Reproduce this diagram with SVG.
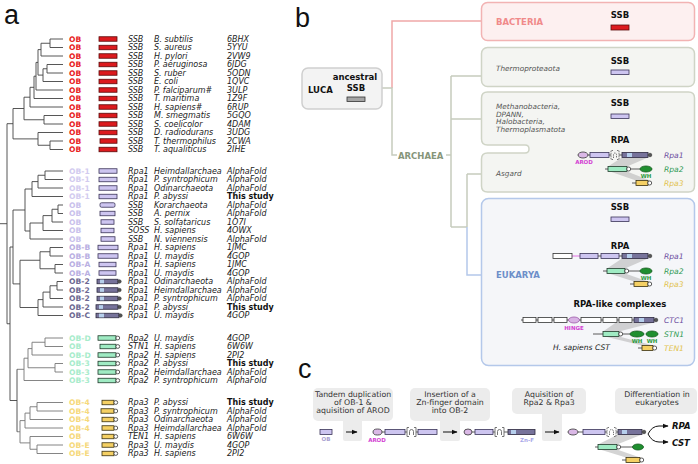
<svg xmlns="http://www.w3.org/2000/svg" width="698" height="464" viewBox="0 0 698 464">
<defs>
<style>
text{font-family:"DejaVu Sans",Verdana,sans-serif;}
.pl{font-family:"Liberation Sans",Arial,sans-serif;font-size:27px;fill:#111;}
.ob{font-size:7.6px;font-weight:bold;}
.it{font-size:8px;font-style:italic;fill:#222;}
.bd{font-size:8px;font-weight:bold;fill:#111;}
.red{fill:#e8231f;}
.l1{fill:#d2cbef;}
.l2{fill:#c9c1ec;}
.l3{fill:#b9afe2;}
.dk{fill:#6d6892;}
.gr{fill:#a7eccb;}
.ye{fill:#f6d97c;}
.bR{fill:#dc1a1e;stroke:#5a0a0a;stroke-width:0.8;}
.bL{fill:#cdc5f0;stroke:#3a3358;stroke-width:0.8;}
.bD{fill:#77739b;stroke:#2d2a40;stroke-width:0.8;}
.bS{fill:#b6cfec;}
.bG{fill:#9febc3;stroke:#1f3a2a;stroke-width:0.8;}
.bY{fill:#f5d064;stroke:#3a3010;stroke-width:0.8;}
.bW{fill:#fff;stroke:#333;stroke-width:0.8;}
.cap{fill:#fff;stroke:#333;stroke-width:0.8;}
.capd{fill:#555;stroke:#333;stroke-width:0.6;}
.ln{stroke:#333;stroke-width:0.8;fill:none;}
.tr1{stroke:#444;stroke-width:0.9;fill:none;}
.tr2{stroke:#777;stroke-width:0.9;fill:none;}
.hd{font-size:8.5px;font-weight:bold;fill:#111;text-anchor:middle;}
.sp{font-size:7.3px;font-style:italic;fill:#555;}
.pn{font-size:7.6px;font-style:italic;}
.tiny{font-size:5.5px;font-weight:bold;text-anchor:middle;}
.mag{fill:#d23fd2;}
.whc{fill:#2a9a3a;}
.arod{fill:#dab8e6;stroke:#333;stroke-width:0.8;}
.wh{fill:#1f8f2f;stroke:#145a1e;stroke-width:0.8;}
.zn{stroke:#666;stroke-width:0.9;fill:none;}
.shade{fill:#b8b8b8;opacity:0.6;}
.ctxt{font-size:7.8px;fill:#333;text-anchor:middle;}
.cbox{fill:#ececec;}
</style>
<marker id="arr" viewBox="0 0 10 10" refX="9" refY="5" markerWidth="6" markerHeight="6" orient="auto"><path d="M0,1 L10,5 L0,9 Z" fill="#111"/></marker>
</defs>
<rect width="698" height="464" fill="#fff"/>

<!-- panel labels -->
<text class="pl" x="4" y="24">a</text>
<text class="pl" x="295" y="27">b</text>
<text class="pl" x="298" y="378">c</text>

<!-- ===== PANEL A: tree ===== -->
<g id="tree-a">
<path class="tr1" d="M50,39H63 M50,47.5H63 M41,56H63 M47,64.5H63 M47,73H63 M43,81.5H63 M36,90H63 M34,98.5H63 M30,107H63 M44,115.5H63 M44,124H63 M38,132.5H63 M50,141H63 M50,149.5H63 M50,39V47.5 M41,43.25H50 M41,43.25V56 M38,49.6H41 M47,64.5V73 M43,68.75H47 M43,68.75V81.5 M38,75.1H43 M38,49.6V75.1 M36,62.4H38 M36,62.4V90 M34,76.2H36 M34,76.2V98.5 M30,87.3H34 M30,87.3V107 M24,97.2H30 M44,115.5V124 M24,119.75H44 M24,97.2V119.75 M13,108.5H24 M50,141V149.5 M38,145.25H50 M38,132.5V145.25 M13,138.9H38 M13,108.5V138.9 M7,123.7H13"/>
<path class="tr1" d="M45,171H63 M45,179.5H63 M38,188H63 M32,196.5H63 M58,205H63 M58,213.5H63 M52,222H63 M43,230.5H63 M30,239H63 M50,247.5H63 M50,256H63 M55,264.5H63 M55,273H63 M57,281.5H63 M57,290H63 M50,298.5H63 M43,307H63 M38,315.5H63 M45,171V179.5 M38,175.25H45 M38,175.25V188 M32,181.6H38 M32,181.6V196.5 M25,189H32 M58,205V213.5 M52,209.25H58 M52,209.25V222 M43,215.6H52 M43,215.6V230.5 M30,223H43 M30,223V239 M25,231H30 M25,189V231 M13,210H25 M50,247.5V256 M40,251.75H50 M55,264.5V273 M40,268.75H55 M40,251.75V268.75 M20,260.25H40 M57,281.5V290 M50,285.75H57 M50,285.75V298.5 M43,292.1H50 M43,292.1V307 M38,299.6H43 M38,299.6V315.5 M20,307.5H38 M20,260.25V307.5 M13,283.9H20 M13,210V283.9 M10,247H13"/>
<path class="tr2" d="M45,338H63 M45,346.5H63 M32,355H63 M55,363.5H63 M55,372H63 M24,380.5H63 M45,338V346.5 M32,342.25H45 M32,342.25V355 M28,348.6H32 M55,363.5V372 M28,367.75H55 M28,348.6V367.75 M24,358.2H28 M24,358.2V380.5 M17,369.3H24"/>
<path class="tr2" d="M37,402.5H63 M37,411H63 M30,419.5H63 M25,428H63 M30,436.5H63 M37,445H63 M37,453.5H63 M37,402.5V411 M30,406.75H37 M30,406.75V419.5 M25,413.1H30 M25,413.1V428 M20,420.6H25 M37,445V453.5 M30,449.25H37 M30,436.5V449.25 M20,442.9H30 M20,420.6V442.9 M17,431.75H20"/>
<path class="tr1" d="M17,369.3V431.75 M10,400.5H17 M10,247V400.5 M7,323.75H10 M7,123.7V323.75 M0,223.7H7"/>
</g>

<!-- group 1: bacteria -->
<g id="a-bacteria">
<g id="a01" transform="translate(0,39)"><text class="ob red" x="69" y="2.8">OB</text><rect class="bR" x="99" y="-2.25" width="18" height="4.5"/><text class="it" x="128" y="2.8">SSB</text><text class="it" x="154" y="2.8">B. subtilis</text><text class="it" x="227" y="2.8">6BHX</text></g>
<g id="a02" transform="translate(0,47.5)"><text class="ob red" x="69" y="2.8">OB</text><rect class="bR" x="99" y="-2.25" width="18" height="4.5"/><text class="it" x="128" y="2.8">SSB</text><text class="it" x="154" y="2.8">S. aureus</text><text class="it" x="227" y="2.8">5YYU</text></g>
<g id="a03" transform="translate(0,56)"><text class="ob red" x="69" y="2.8">OB</text><rect class="bR" x="99" y="-2.25" width="18" height="4.5"/><text class="it" x="128" y="2.8">SSB</text><text class="it" x="154" y="2.8">H. pylori</text><text class="it" x="227" y="2.8">2VW9</text></g>
<g id="a04" transform="translate(0,64.5)"><text class="ob red" x="69" y="2.8">OB</text><rect class="bR" x="99" y="-2.25" width="18" height="4.5"/><text class="it" x="128" y="2.8">SSB</text><text class="it" x="154" y="2.8">P. aeruginosa</text><text class="it" x="227" y="2.8">6JDG</text></g>
<g id="a05" transform="translate(0,73)"><text class="ob red" x="69" y="2.8">OB</text><rect class="bR" x="99" y="-2.25" width="18" height="4.5"/><text class="it" x="128" y="2.8">SSB</text><text class="it" x="154" y="2.8">S. ruber</text><text class="it" x="227" y="2.8">5ODN</text></g>
<g id="a06" transform="translate(0,81.5)"><text class="ob red" x="69" y="2.8">OB</text><rect class="bR" x="99" y="-2.25" width="18" height="4.5"/><text class="it" x="128" y="2.8">SSB</text><text class="it" x="154" y="2.8">E. coli</text><text class="it" x="227" y="2.8">1QVC</text></g>
<g id="a07" transform="translate(0,90)"><text class="ob red" x="69" y="2.8">OB</text><rect class="bR" x="99" y="-2.25" width="18" height="4.5"/><text class="it" x="128" y="2.8">SSB</text><text class="it" x="154" y="2.8">P. falciparum#</text><text class="it" x="227" y="2.8">3ULP</text></g>
<g id="a08" transform="translate(0,98.5)"><text class="ob red" x="69" y="2.8">OB</text><rect class="bR" x="99" y="-2.25" width="18" height="4.5"/><text class="it" x="128" y="2.8">SSB</text><text class="it" x="154" y="2.8">T. maritima</text><text class="it" x="227" y="2.8">1Z9F</text></g>
<g id="a09" transform="translate(0,107)"><text class="ob red" x="69" y="2.8">OB</text><rect class="bR" x="99" y="-2.25" width="18" height="4.5"/><text class="it" x="128" y="2.8">SSB</text><text class="it" x="154" y="2.8">H. sapiens#</text><text class="it" x="227" y="2.8">6RUP</text></g>
<g id="a10" transform="translate(0,115.5)"><text class="ob red" x="69" y="2.8">OB</text><rect class="bR" x="99" y="-2.25" width="18" height="4.5"/><text class="it" x="128" y="2.8">SSB</text><text class="it" x="154" y="2.8">M. smegmatis</text><text class="it" x="227" y="2.8">5GQO</text></g>
<g id="a11" transform="translate(0,124)"><text class="ob red" x="69" y="2.8">OB</text><rect class="bR" x="99" y="-2.25" width="18" height="4.5"/><text class="it" x="128" y="2.8">SSB</text><text class="it" x="154" y="2.8">S. coelicolor</text><text class="it" x="227" y="2.8">4DAM</text></g>
<g id="a12" transform="translate(0,132.5)"><text class="ob red" x="69" y="2.8">OB</text><rect class="bR" x="99" y="-2.25" width="18" height="4.5"/><text class="it" x="128" y="2.8">SSB</text><text class="it" x="154" y="2.8">D. radiodurans</text><text class="it" x="227" y="2.8">3UDG</text></g>
<g id="a13" transform="translate(0,141)"><text class="ob red" x="69" y="2.8">OB</text><rect class="bR" x="100" y="-2.25" width="17" height="4.5"/><text class="it" x="128" y="2.8">SSB</text><text class="it" x="154" y="2.8">T. thermophilus</text><text class="it" x="227" y="2.8">2CWA</text></g>
<g id="a14" transform="translate(0,149.5)"><text class="ob red" x="69" y="2.8">OB</text><rect class="bR" x="99" y="-2.25" width="18" height="4.5"/><text class="it" x="128" y="2.8">SSB</text><text class="it" x="154" y="2.8">T. aqualiticus</text><text class="it" x="227" y="2.8">2IHE</text></g>
</g>

<!-- group 2: Rpa1 / SSB -->
<g id="a-rpa1">
<g id="a15" transform="translate(0,171)"><text class="ob l1" x="69" y="2.8">OB-1</text><rect class="bL" x="99" y="-2.25" width="18" height="4.5"/><text class="it" x="128" y="2.8">Rpa1</text><text class="it" x="154" y="2.8">Heimdallarchaea</text><text class="it" x="227" y="2.8">AlphaFold</text></g>
<g id="a16" transform="translate(0,179.5)"><text class="ob l1" x="69" y="2.8">OB-1</text><rect class="bL" x="99" y="-2.25" width="18" height="4.5"/><text class="it" x="128" y="2.8">Rpa1</text><text class="it" x="154" y="2.8">P. syntrophicum</text><text class="it" x="227" y="2.8">AlphaFold</text></g>
<g id="a17" transform="translate(0,188)"><text class="ob l1" x="69" y="2.8">OB-1</text><rect class="bL" x="99" y="-2.25" width="18" height="4.5"/><text class="it" x="128" y="2.8">Rpa1</text><text class="it" x="154" y="2.8">Odinarchaeota</text><text class="it" x="227" y="2.8">AlphaFold</text></g>
<g id="a18" transform="translate(0,196.5)"><text class="ob l1" x="69" y="2.8">OB-1</text><rect class="bL" x="99" y="-2.25" width="18" height="4.5"/><text class="it" x="128" y="2.8">Rpa1</text><text class="it" x="154" y="2.8">P. abyssi</text><text class="bd" x="227" y="2.8">This study</text></g>
<g id="a19" transform="translate(0,205)"><text class="ob l2" x="69" y="2.8">OB</text><rect class="bL" x="100" y="-2.25" width="15" height="4.5" rx="1.5"/><text class="it" x="128" y="2.8">SSB</text><text class="it" x="154" y="2.8">Korarchaeota</text><text class="it" x="227" y="2.8">AlphaFold</text></g>
<g id="a20" transform="translate(0,213.5)"><text class="ob l2" x="69" y="2.8">OB</text><rect class="bL" x="100" y="-2.25" width="15" height="4.5"/><text class="it" x="128" y="2.8">SSB</text><text class="it" x="154" y="2.8">A. pernix</text><text class="it" x="227" y="2.8">AlphaFold</text></g>
<g id="a21" transform="translate(0,222)"><text class="ob l2" x="69" y="2.8">OB</text><rect class="bL" x="101" y="-2.25" width="13" height="4.5"/><text class="it" x="128" y="2.8">SSB</text><text class="it" x="154" y="2.8">S. solfataricus</text><text class="it" x="227" y="2.8">1O7I</text></g>
<g id="a22" transform="translate(0,230.5)"><text class="ob l2" x="69" y="2.8">OB</text><rect class="bL" x="101" y="-2.25" width="13" height="4.5"/><text class="it" x="128" y="2.8">SOSS</text><text class="it" x="154" y="2.8">H. sapiens</text><text class="it" x="227" y="2.8">4OWX</text></g>
<g id="a23" transform="translate(0,239)"><text class="ob l2" x="69" y="2.8">OB</text><rect class="bL" x="101" y="-2.25" width="14" height="4.5"/><text class="it" x="128" y="2.8">SSB</text><text class="it" x="154" y="2.8">N. viennensis</text><text class="it" x="227" y="2.8">AlphaFold</text></g>
<g id="a24" transform="translate(0,247.5)"><text class="ob l3" x="69" y="2.8">OB-B</text><rect class="bL" x="98" y="-2.25" width="20" height="4.5"/><text class="it" x="128" y="2.8">Rpa1</text><text class="it" x="154" y="2.8">H. sapiens</text><text class="it" x="227" y="2.8">1JMC</text></g>
<g id="a25" transform="translate(0,256)"><text class="ob l3" x="69" y="2.8">OB-B</text><rect class="bL" x="98" y="-2.25" width="20" height="4.5"/><text class="it" x="128" y="2.8">Rpa1</text><text class="it" x="154" y="2.8">U. maydis</text><text class="it" x="227" y="2.8">4GOP</text></g>
<g id="a26" transform="translate(0,264.5)"><text class="ob l3" x="69" y="2.8">OB-A</text><rect class="bL" x="99" y="-2.25" width="17" height="4.5"/><text class="it" x="128" y="2.8">Rpa1</text><text class="it" x="154" y="2.8">H. sapiens</text><text class="it" x="227" y="2.8">1JMC</text></g>
<g id="a27" transform="translate(0,273)"><text class="ob l3" x="69" y="2.8">OB-A</text><rect class="bL" x="99" y="-2.25" width="17" height="4.5"/><text class="it" x="128" y="2.8">Rpa1</text><text class="it" x="154" y="2.8">U. maydis</text><text class="it" x="227" y="2.8">4GOP</text></g>
<g id="a28" transform="translate(0,281.5)"><text class="ob dk" x="69" y="2.8">OB-2</text><rect class="bD" x="97" y="-2.25" width="21" height="4.5"/><rect class="bS" x="100" y="-1.85" width="4" height="3.7"/><circle class="capd" cx="119.5" cy="0" r="1.7"/><text class="it" x="128" y="2.8">Rpa1</text><text class="it" x="154" y="2.8">Odinarchaeota</text><text class="it" x="227" y="2.8">AlphaFold</text></g>
<g id="a29" transform="translate(0,290)"><text class="ob dk" x="69" y="2.8">OB-2</text><rect class="bD" x="97" y="-2.25" width="21" height="4.5"/><rect class="bS" x="100" y="-1.85" width="4" height="3.7"/><circle class="capd" cx="119.5" cy="0" r="1.7"/><text class="it" x="128" y="2.8">Rpa1</text><text class="it" x="154" y="2.8">Heimdallarchaea</text><text class="it" x="227" y="2.8">AlphaFold</text></g>
<g id="a30" transform="translate(0,298.5)"><text class="ob dk" x="69" y="2.8">OB-2</text><rect class="bD" x="97" y="-2.25" width="21" height="4.5"/><rect class="bS" x="100" y="-1.85" width="4" height="3.7"/><circle class="capd" cx="119.5" cy="0" r="1.7"/><text class="it" x="128" y="2.8">Rpa1</text><text class="it" x="154" y="2.8">P. syntrophicum</text><text class="it" x="227" y="2.8">AlphaFold</text></g>
<g id="a31" transform="translate(0,307)"><text class="ob dk" x="69" y="2.8">OB-2</text><rect class="bD" x="96" y="-2.25" width="22" height="4.5"/><rect class="bS" x="99" y="-1.85" width="4" height="3.7"/><circle class="capd" cx="119.5" cy="0" r="1.7"/><text class="it" x="128" y="2.8">Rpa1</text><text class="it" x="154" y="2.8">P. abyssi</text><text class="bd" x="227" y="2.8">This study</text></g>
<g id="a32" transform="translate(0,315.5)"><text class="ob dk" x="69" y="2.8">OB-C</text><rect class="bD" x="96" y="-2.25" width="23" height="4.5"/><rect class="bS" x="99" y="-1.85" width="5" height="3.7"/><circle class="capd" cx="120.5" cy="0" r="1.7"/><text class="it" x="128" y="2.8">Rpa1</text><text class="it" x="154" y="2.8">U. maydis</text><text class="it" x="227" y="2.8">4GOP</text></g>
</g>

<!-- group 3: Rpa2 -->
<g id="a-rpa2">
<g id="a33" transform="translate(0,338)"><text class="ob gr" x="69" y="2.8">OB-D</text><rect class="bG" x="98" y="-2.25" width="18" height="4.5"/><circle class="cap" cx="117.8" cy="0" r="1.9"/><text class="it" x="128" y="2.8">Rpa2</text><text class="it" x="154" y="2.8">U. maydis</text><text class="it" x="227" y="2.8">4GOP</text></g>
<g id="a34" transform="translate(0,346.5)"><text class="ob gr" x="69" y="2.8">OB</text><rect class="bG" x="100" y="-2.25" width="16" height="4.5"/><circle class="cap" cx="117.8" cy="0" r="1.9"/><text class="it" x="128" y="2.8">STN1</text><text class="it" x="154" y="2.8">H. sapiens</text><text class="it" x="227" y="2.8">6W6W</text></g>
<g id="a35" transform="translate(0,355)"><text class="ob gr" x="69" y="2.8">OB-D</text><rect class="bG" x="98" y="-2.25" width="18" height="4.5"/><circle class="cap" cx="117.8" cy="0" r="1.9"/><text class="it" x="128" y="2.8">Rpa2</text><text class="it" x="154" y="2.8">H. sapiens</text><text class="it" x="227" y="2.8">2PI2</text></g>
<g id="a36" transform="translate(0,363.5)"><text class="ob gr" x="69" y="2.8">OB-3</text><rect class="bG" x="98" y="-2.25" width="18" height="4.5"/><circle class="cap" cx="117.8" cy="0" r="1.9"/><text class="it" x="128" y="2.8">Rpa2</text><text class="it" x="154" y="2.8">P. abyssi</text><text class="bd" x="227" y="2.8">This study</text></g>
<g id="a37" transform="translate(0,372)"><text class="ob gr" x="69" y="2.8">OB-3</text><rect class="bG" x="98" y="-2.25" width="18" height="4.5"/><circle class="cap" cx="117.8" cy="0" r="1.9"/><text class="it" x="128" y="2.8">Rpa2</text><text class="it" x="154" y="2.8">Heimdallarchaea</text><text class="it" x="227" y="2.8">AlphaFold</text></g>
<g id="a38" transform="translate(0,380.5)"><text class="ob gr" x="69" y="2.8">OB-3</text><rect class="bG" x="98" y="-2.25" width="18" height="4.5"/><circle class="cap" cx="117.8" cy="0" r="1.9"/><text class="it" x="128" y="2.8">Rpa2</text><text class="it" x="154" y="2.8">P. syntrophicum</text><text class="it" x="227" y="2.8">AlphaFold</text></g>
</g>

<!-- group 4: Rpa3 -->
<g id="a-rpa3">
<g id="a39" transform="translate(0,402.5)"><text class="ob ye" x="69" y="2.8">OB-4</text><rect class="bY" x="102" y="-2.25" width="12" height="4.5"/><circle class="cap" cx="115.8" cy="0" r="1.9"/><text class="it" x="128" y="2.8">Rpa3</text><text class="it" x="154" y="2.8">P. abyssi</text><text class="bd" x="227" y="2.8">This study</text></g>
<g id="a40" transform="translate(0,411)"><text class="ob ye" x="69" y="2.8">OB-4</text><rect class="bY" x="101" y="-2.25" width="13" height="4.5"/><circle class="cap" cx="115.8" cy="0" r="1.9"/><text class="it" x="128" y="2.8">Rpa3</text><text class="it" x="154" y="2.8">P. syntrophicum</text><text class="it" x="227" y="2.8">AlphaFold</text></g>
<g id="a41" transform="translate(0,419.5)"><text class="ob ye" x="69" y="2.8">OB-4</text><rect class="bY" x="102" y="-2.25" width="12" height="4.5"/><circle class="cap" cx="115.8" cy="0" r="1.9"/><text class="it" x="128" y="2.8">Rpa3</text><text class="it" x="154" y="2.8">Odinarchaeota</text><text class="it" x="227" y="2.8">AlphaFold</text></g>
<g id="a42" transform="translate(0,428)"><text class="ob ye" x="69" y="2.8">OB-4</text><rect class="bY" x="102" y="-2.25" width="12" height="4.5"/><circle class="cap" cx="115.8" cy="0" r="1.9"/><text class="it" x="128" y="2.8">Rpa3</text><text class="it" x="154" y="2.8">Heimdallarchaea</text><text class="it" x="227" y="2.8">AlphaFold</text></g>
<g id="a43" transform="translate(0,436.5)"><text class="ob ye" x="69" y="2.8">OB</text><rect class="bY" x="102" y="-2.25" width="12" height="4.5"/><circle class="cap" cx="115.8" cy="0" r="1.9"/><text class="it" x="128" y="2.8">TEN1</text><text class="it" x="154" y="2.8">H. sapiens</text><text class="it" x="227" y="2.8">6W6W</text></g>
<g id="a44" transform="translate(0,445)"><text class="ob ye" x="69" y="2.8">OB-E</text><rect class="bY" x="102" y="-2.25" width="12" height="4.5"/><circle class="cap" cx="115.8" cy="0" r="1.9"/><text class="it" x="128" y="2.8">Rpa3</text><text class="it" x="154" y="2.8">U. maydis</text><text class="it" x="227" y="2.8">4GOP</text></g>
<g id="a45" transform="translate(0,453.5)"><text class="ob ye" x="69" y="2.8">OB-E</text><rect class="bY" x="102" y="-2.25" width="12" height="4.5"/><circle class="cap" cx="115.8" cy="0" r="1.9"/><text class="it" x="128" y="2.8">Rpa3</text><text class="it" x="154" y="2.8">H. sapiens</text><text class="it" x="227" y="2.8">2PI2</text></g>
</g>

<!-- ===== PANEL B ===== -->
<g id="b-connectors">
<path d="M392,88 V21 H481" fill="none" stroke="#f0a8a8" stroke-width="1.5"/>
<path d="M382,88 H392 V155 H397 M446,155 H451 M451,76 V227 M451,76 H481 M451,119 H481 M451,227 H467 M467,174 V227 M467,174 H481" fill="none" stroke="#c6ccbd" stroke-width="1.5"/>
<path d="M467,227 V275 H481" fill="none" stroke="#b4c8ea" stroke-width="1.5"/>
<text x="398" y="158.5" font-size="8.5" font-weight="bold" fill="#86957a">ARCHAEA</text>
</g>

<g id="b-luca">
<rect x="302" y="68" width="80" height="41" rx="6" fill="#f3f3f3" stroke="#cfcfcf" stroke-width="1.5"/>
<text x="308" y="93" font-size="8.5" font-weight="bold" fill="#111">LUCA</text>
<text x="355" y="80" class="hd">ancestral</text>
<text x="356" y="91" class="hd">SSB</text>
<rect x="347" y="97" width="18" height="4.5" fill="#a5a5a5" stroke="#333" stroke-width="0.8"/>
</g>

<g id="b-bacteria">
<rect x="481.5" y="2.5" width="213" height="38" rx="6" fill="#fdf0f0" stroke="#f2b3b3" stroke-width="1.5"/>
<text x="496" y="25" font-size="8.5" font-weight="bold" fill="#f08a8a">BACTERIA</text>
<text x="620" y="18" class="hd">SSB</text>
<rect x="611" y="25" width="18" height="5" class="bR"/>
</g>

<g id="b-thermo">
<rect x="481.5" y="47.5" width="213" height="39" rx="6" fill="#f4f5f2" stroke="#cfd4c6" stroke-width="1.5"/>
<text x="496" y="71" class="sp">Thermoproteaota</text>
<text x="620" y="64" class="hd">SSB</text>
<rect x="611" y="70" width="18" height="4.5" class="bL"/>
</g>

<g id="b-archaea2">
<path d="M487.5,92 H688.5 Q694.5,92 694.5,98 V186 Q694.5,192 688.5,192 H487.5 Q481.5,192 481.5,186 V159 Q481.5,153 487.5,153 H525 Q529,153 529,149 Q529,145 525,145 H487.5 Q481.5,145 481.5,139 V98 Q481.5,92 487.5,92 Z" fill="#f4f5f2" stroke="#cfd4c6" stroke-width="1.5"/>
<text class="sp"><tspan x="496" y="109">Methanobacteria,</tspan><tspan x="496" y="116.5">DPANN,</tspan><tspan x="496" y="124">Halobacteria,</tspan><tspan x="496" y="131.5">Thermoplasmatota</tspan></text>
<text x="620" y="106" class="hd">SSB</text>
<rect x="611" y="114" width="18" height="4.5" class="bL"/>
<text x="496" y="176" class="sp">Asgard</text>
<text x="620" y="143" class="hd">RPA</text>
<polygon class="shade" points="622,157.5 648,157.5 627,166.5 608,166.5"/>
<polygon class="shade" points="610,171.5 627,171.5 650,180.5 636,180.5"/>
<path class="ln" d="M588,155H590 M609,155H611 M619,155H622"/>
<ellipse class="arod" cx="583" cy="155" rx="5" ry="3"/>
<rect class="bL" x="590" y="152.5" width="19" height="5"/>
<path class="zn" d="M613,150.5h-2v9h2 M617,150.5h2v9h-2 M613.5,158v-3.5a1.5,1.5 0 0 1 3,0v3.5" stroke-dasharray="1.5,0.8"/>
<rect class="bD" x="622" y="152.5" width="26" height="5"/>
<rect class="bS" x="627" y="153" width="5" height="4"/>
<circle class="capd" cx="650" cy="155" r="1.8"/>
<text x="584" y="164" class="tiny mag">AROD</text>
<text x="664" y="157.5" class="pn" fill="#6b4d9e">Rpa1</text>
<path class="ln" d="M605,169H608 M630.5,169H640"/>
<rect class="bG" x="608" y="166.5" width="19" height="5"/>
<circle class="cap" cx="628.7" cy="169" r="2"/>
<ellipse class="wh" cx="646" cy="169" rx="6" ry="3"/>
<text x="646" y="178" class="tiny whc">WH</text>
<text x="664" y="171.5" class="pn" fill="#2f9a52">Rpa2</text>
<path class="ln" d="M632,183H636"/>
<rect class="bY" x="636" y="180.5" width="12" height="5"/>
<circle class="cap" cx="649.7" cy="183" r="2"/>
<text x="664" y="185.5" class="pn" fill="#e2c24a">Rpa3</text>
</g>

<g id="b-eukarya">
<rect x="481.5" y="198.5" width="213" height="167" rx="7" fill="#f5f6f9" stroke="#b4c8ea" stroke-width="1.5"/>
<text x="496" y="278" font-size="8.5" font-weight="bold" fill="#6d8fc9">EUKARYA</text>
<text x="620" y="210" class="hd">SSB</text>
<rect x="611" y="217" width="18" height="4.5" class="bL"/>
<text x="620" y="249" class="hd">RPA</text>
<polygon class="shade" points="622,258.5 648,258.5 625,268.5 607,268.5"/>
<polygon class="shade" points="609,273.5 625,273.5 648,281.5 634,281.5"/>
<path class="ln" d="M598,256H601 M619,256H622"/>
<path d="M572,256H580" stroke="#e060e0" stroke-width="0.9"/>
<rect class="bW" x="553" y="253.5" width="19" height="5"/>
<rect class="bL" x="580" y="253.5" width="18" height="5"/>
<rect class="bL" x="601" y="253.5" width="18" height="5"/>
<rect class="bD" x="622" y="253.5" width="26" height="5"/>
<rect class="bS" x="627" y="254" width="5" height="4"/>
<circle class="capd" cx="650" cy="256" r="1.8"/>
<text x="664" y="258.5" class="pn" fill="#6b4d9e">Rpa1</text>
<path class="ln" d="M603,271H607 M628.5,271H640"/>
<rect class="bG" x="607" y="268.5" width="18" height="5"/>
<circle class="cap" cx="626.7" cy="271" r="2"/>
<ellipse class="wh" cx="646" cy="271" rx="6" ry="3"/>
<text x="646" y="280" class="tiny whc">WH</text>
<text x="664" y="273.5" class="pn" fill="#2f9a52">Rpa2</text>
<path class="ln" d="M630,284H634"/>
<rect class="bY" x="634" y="281.5" width="14" height="5"/>
<circle class="cap" cx="649.7" cy="284" r="2"/>
<text x="664" y="286.5" class="pn" fill="#e2c24a">Rpa3</text>
<text x="620" y="307" class="hd">RPA-like complexes</text>
<polygon class="shade" points="616,322.5 654,322.5 619,331.5 603,331.5"/>
<polygon class="shade" points="605,336.5 619,336.5 653,345.5 642,345.5"/>
<path class="ln" d="M521,320H656"/>
<rect class="bW" x="523" y="317.5" width="13" height="5"/>
<rect class="bW" x="538" y="317.5" width="14" height="5"/>
<rect class="bW" x="554" y="317.5" width="13" height="5"/>
<ellipse cx="574" cy="320" rx="5.5" ry="3" fill="#d8b2e4" stroke="#9c5aa8" stroke-width="0.8"/>
<rect class="bW" x="581" y="317.5" width="20" height="5"/>
<rect class="bW" x="603" y="317.5" width="14" height="5"/>
<rect class="bW" x="619" y="317.5" width="13" height="5"/>
<rect class="bD" x="634" y="317.5" width="20" height="5"/>
<rect class="bS" x="639" y="318" width="5" height="4"/>
<circle class="capd" cx="656" cy="320" r="1.8"/>
<text x="574" y="330" class="tiny mag">HINGE</text>
<text x="664" y="322.5" class="pn" fill="#6b4d9e">CTC1</text>
<path class="ln" d="M593,334H603 M623,334H630"/>
<rect class="bG" x="603" y="331.5" width="16" height="5"/>
<circle class="cap" cx="620.7" cy="334" r="2"/>
<ellipse class="wh" cx="637" cy="334" rx="7" ry="3"/>
<ellipse class="wh" cx="652" cy="334" rx="6" ry="3"/>
<text x="637" y="342.5" class="tiny whc">WH</text>
<text x="652" y="342.5" class="tiny whc">WH</text>
<text x="664" y="336.5" class="pn" fill="#2f9a52">STN1</text>
<path class="ln" d="M638,348H642"/>
<rect class="bY" x="642" y="345.5" width="11" height="5"/>
<circle class="cap" cx="654.7" cy="348" r="2"/>
<text x="664" y="350.5" class="pn" fill="#e2c24a">TEN1</text>
<text x="553" y="350" class="pn" fill="#222">H. sapiens CST</text>
</g>

<!-- ===== PANEL C ===== -->
<g id="c-box1">
<rect class="cbox" x="313" y="388" width="80" height="33" rx="5"/>
<rect class="cbox" x="343" y="418" width="19" height="23" rx="2"/>
<text class="ctxt"><tspan x="353" y="397">Tandem duplication</tspan><tspan x="353" y="405">of OB-1 &amp;</tspan><tspan x="353" y="413">aquisition of AROD</tspan></text>
</g>
<g id="c-box2">
<rect class="cbox" x="410" y="388" width="80" height="33" rx="5"/>
<rect class="cbox" x="440" y="418" width="20" height="23" rx="2"/>
<text class="ctxt"><tspan x="450" y="397">Insertion of a</tspan><tspan x="450" y="405">Zn-finger domain</tspan><tspan x="450" y="413">into OB-2</tspan></text>
</g>
<g id="c-box3">
<rect class="cbox" x="512" y="388" width="74" height="26" rx="5"/>
<rect class="cbox" x="542" y="411" width="20" height="30" rx="2"/>
<text class="ctxt"><tspan x="549" y="397">Aquisition of</tspan><tspan x="549" y="405">Rpa2 &amp; Rpa3</tspan></text>
</g>
<g id="c-box4">
<rect class="cbox" x="615" y="388" width="82" height="26" rx="5"/>
<text class="ctxt"><tspan x="657" y="397">Differentiation in</tspan><tspan x="657" y="405">eukaryotes</tspan></text>
</g>

<g id="c-stage1">
<rect class="bL" x="320" y="429.5" width="12" height="5"/>
<text x="326" y="441" class="tiny" fill="#a8a0d0">OB</text>
</g>
<g id="c-stage2">
<path class="ln" d="M382,432H385 M405,432H407 M416,432H418"/>
<ellipse class="arod" cx="377.5" cy="432" rx="4.5" ry="3"/>
<rect class="bL" x="385" y="429.5" width="20" height="5"/>
<path class="zn" d="M409,427.5h-2v9h2 M414,427.5h2v9h-2 M409.5,435v-3.5a2,2 0 0 1 4,0v3.5" stroke="#444"/>
<rect class="bL" x="418" y="429.5" width="19" height="5"/>
<text x="377" y="442" class="tiny mag">AROD</text>
</g>
<g id="c-stage3">
<path class="ln" d="M472,432H475 M493,432H495 M504,432H508"/>
<ellipse class="arod" cx="468" cy="432" rx="4" ry="3"/>
<rect class="bL" x="475" y="429.5" width="18" height="5"/>
<path class="zn" d="M497,427.5h-2v9h2 M502,427.5h2v9h-2 M497.5,435v-3.5a2,2 0 0 1 4,0v3.5" stroke="#444"/>
<rect class="bD" x="508" y="429.5" width="27" height="5"/>
<rect class="bS" x="511" y="430" width="5" height="4"/>
<text x="527" y="442" class="tiny" fill="#a8a8e8" font-weight="normal">Zn-F</text>
</g>
<g id="c-stage4">
<polygon class="shade" points="618,434.5 642,434.5 617,444.5 598,444.5"/>
<polygon class="shade" points="600,449.5 617,449.5 640,457.5 626,457.5"/>
<path class="ln" d="M578,432H583 M605,432H607 M616,432H618"/>
<ellipse class="arod" cx="573" cy="432" rx="5" ry="3"/>
<rect class="bL" x="583" y="429.5" width="22" height="5"/>
<path class="zn" d="M609,427.5h-2v9h2 M614,427.5h2v9h-2 M609.5,435v-3.5a2,2 0 0 1 4,0v3.5" stroke-dasharray="1.5,0.8"/>
<rect class="bD" x="618" y="429.5" width="24" height="5"/>
<rect class="bS" x="622" y="430" width="5" height="4"/>
<circle class="capd" cx="644" cy="432" r="1.8"/>
<path class="ln" d="M595,447H598 M620.5,447H633"/>
<rect class="bG" x="598" y="444.5" width="19" height="5"/>
<circle class="cap" cx="618.7" cy="447" r="2"/>
<ellipse class="wh" cx="638" cy="447" rx="5.5" ry="3"/>
<path class="ln" d="M622,460H626"/>
<rect class="bY" x="626" y="457.5" width="14" height="5"/>
<circle class="cap" cx="641.7" cy="460" r="2"/>
</g>
<g id="c-outcomes">
<text x="672" y="428.5" font-size="8.5" font-weight="bold" font-style="italic" fill="#111">RPA</text>
<text x="672" y="445.5" font-size="8.5" font-weight="bold" font-style="italic" fill="#111">CST</text>
</g>
<g id="c-connectors">
<path d="M346,432H357" stroke="#111" stroke-width="1" fill="none" marker-end="url(#arr)"/>
<path d="M443,432H457" stroke="#111" stroke-width="1" fill="none" marker-end="url(#arr)"/>
<path d="M545,432H559" stroke="#111" stroke-width="1" fill="none" marker-end="url(#arr)"/>
<path d="M648,434 Q652,426 659,426 H668" stroke="#111" stroke-width="1" fill="none" marker-end="url(#arr)"/>
<path d="M648,434 Q652,442 659,442 H668" stroke="#111" stroke-width="1" fill="none" marker-end="url(#arr)"/>
</g>
</svg>
